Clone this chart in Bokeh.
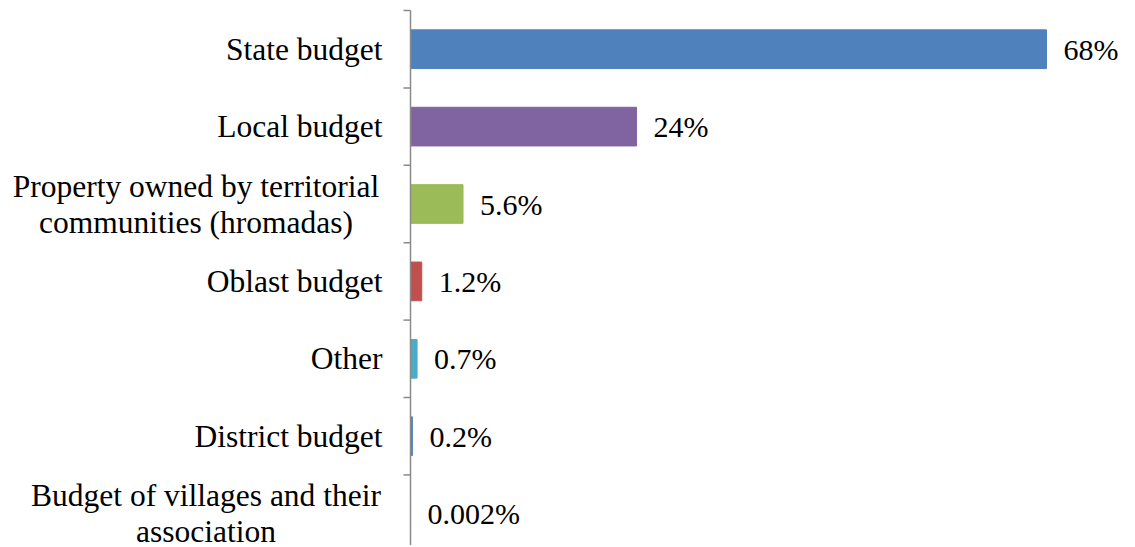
from bokeh.plotting import figure
from bokeh.models import Range1d, ColumnDataSource
from bokeh.embed import file_html
from bokeh.resources import INLINE
from bokeh.core.properties import value

categories = [
    "State budget",
    "Local budget",
    "Property owned by territorial\ncommunities (hromadas)",
    "Oblast budget",
    "Other",
    "District budget",
    "Budget of villages and their\nassociation",
]
values = [67.8, 24.1, 5.6, 1.2, 0.7, 0.2, 0.002]
value_labels = ["68%", "24%", "5.6%", "1.2%", "0.7%", "0.2%", "0.002%"]
colors = ["#4F81BD", "#8064A2", "#9BBB59", "#C0504D", "#4BACC6", "#4F81BD", "#4F81BD"]

n = len(categories)
ypos = [n - 0.5 - i for i in range(n)]

W, H = 1133, 545
AX_X, AX_TOP = 410, 10        # pixel position of the axis line
PX_PER_PCT = 9.38
BAND_PX = 77.4
LINE_PX = 36

src = ColumnDataSource(dict(y=ypos, v=values, lab=value_labels, c=colors))

p = figure(width=W, height=H, output_backend="svg", toolbar_location=None,
           x_range=Range1d(-AX_X / PX_PER_PCT, (W - AX_X) / PX_PER_PCT),
           y_range=Range1d(n - (H - AX_TOP) / BAND_PX, n + AX_TOP / BAND_PX),
           min_border=0)
p.outline_line_color = None
p.axis.visible = False
p.grid.visible = False
p.background_fill_color = "white"
p.border_fill_color = "white"

p.hbar(y="y", left=0, right="v", height=0.5, color="c", source=src)
p.text(x="v", y="y", text="lab", source=src, x_offset=17, text_baseline="middle",
       text_align="left", text_font=value("Liberation Serif"), text_font_size="30px",
       text_color="black")

# axis line and tick marks at the category boundaries
ybot = n - (H - AX_TOP) / BAND_PX
p.segment(x0=[0], y0=[ybot], x1=[0], y1=[n], line_color="#8a8a8a", line_width=1.5)
bounds = list(range(1, n + 1))
p.segment(x0=[-7 / PX_PER_PCT] * len(bounds), y0=bounds, x1=[0] * len(bounds), y1=bounds,
          line_color="#8a8a8a", line_width=1.5)

# category labels: single-line right-aligned, two-line blocks centred line by line
xs, ys, ts, xo, yo, al = [], [], [], [], [], []
for y, c in zip(ypos, categories):
    lines = c.split("\n")
    if len(lines) == 1:
        xs.append(0); ys.append(y); ts.append(c); xo.append(-28); yo.append(0); al.append("right")
    else:
        cx = -214.5 if c.startswith("Property") else -204.5
        for k, line in enumerate(lines):
            xs.append(0); ys.append(y); ts.append(line); xo.append(cx)
            yo.append((k - (len(lines) - 1) / 2) * LINE_PX); al.append("center")
csrc = ColumnDataSource(dict(x=xs, y=ys, t=ts, xo=xo, yo=yo, al=al))
p.text(x="x", y="y", text="t", x_offset="xo", y_offset="yo", text_align="al", source=csrc,
       text_baseline="middle", text_font=value("Liberation Serif"),
       text_font_size="31.5px", text_color="black")

open("out.html", "w").write(file_html(p, INLINE))
